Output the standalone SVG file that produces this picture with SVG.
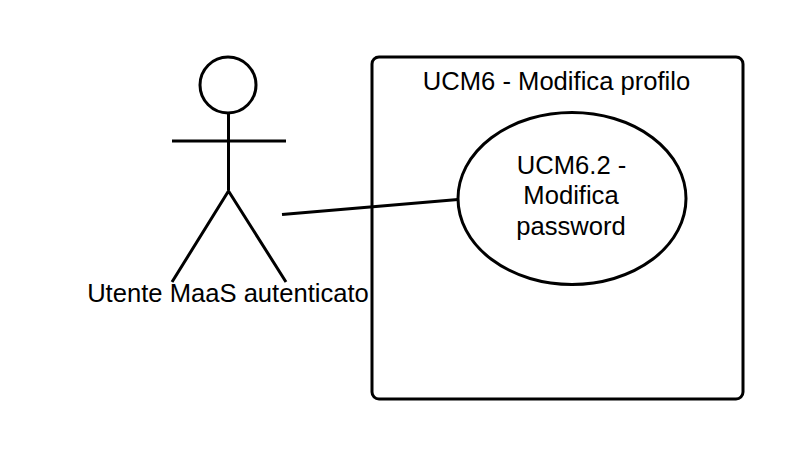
<svg xmlns="http://www.w3.org/2000/svg" width="800" height="457" viewBox="0 0 800 457">
<style>
.s{fill:none;stroke:#000;stroke-width:3;stroke-linecap:butt;stroke-linejoin:round}
text{font-family:"Liberation Sans",Arial,sans-serif;font-size:25.6px;fill:#000;text-anchor:middle}
</style>
<rect width="800" height="457" fill="#fff"/>
<g id="system">
<rect class="s" x="372" y="57" width="371" height="342" rx="7" ry="7"/>
<text x="556.500" y="90">UCM6 - Modifica profilo</text>
</g>
<g id="actor">
<circle class="s" cx="228" cy="85" r="28"/>
<path class="s" d="M228.500 113V190M172 141H286M172 282L228.500 191L286 282"/>
<text x="228" y="302">Utente MaaS autenticato</text>
</g>
<g id="usecase">
<ellipse class="s" cx="572" cy="198.500" rx="114" ry="86"/>
<text x="571.500" y="174">UCM6.2 -</text>
<text x="571" y="204">Modifica</text>
<text x="571" y="235">password</text>
</g>
<g id="connectors">
<path class="s" d="M282 214.500L458 199.500"/>
</g>
</svg>
